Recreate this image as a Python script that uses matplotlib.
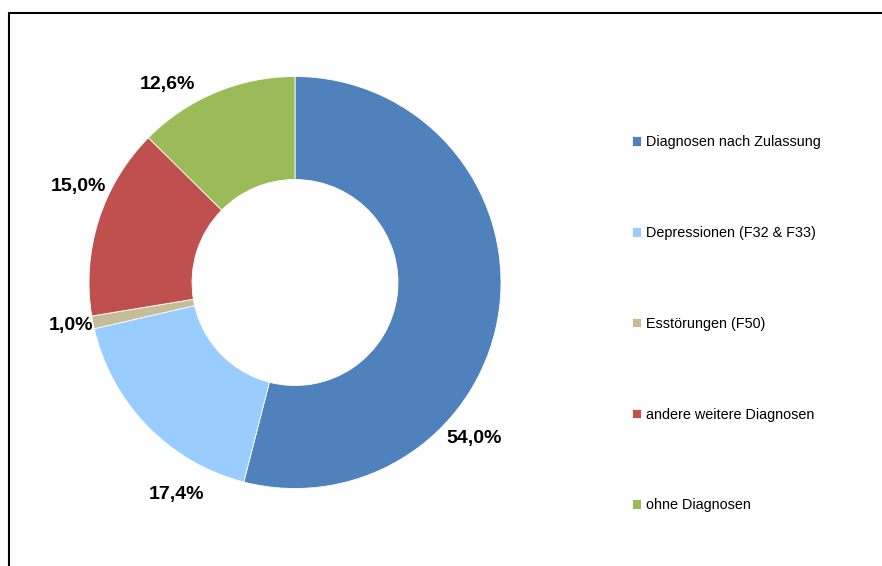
import matplotlib.pyplot as plt
from matplotlib.patches import Rectangle

plt.rcParams['font.family'] = ['Liberation Sans', 'DejaVu Sans']

categories = ['Diagnosen nach Zulassung', 'Depressionen (F32 & F33)', 'Esstörungen (F50)',
              'andere weitere Diagnosen', 'ohne Diagnosen']
values = [54.0, 17.4, 1.0, 15.0, 12.6]
colors = ['#4F81BD', '#99CCFF', '#C4BD97', '#C0504D', '#9BBB59']

# label positions (in units of outer radius), picked to match the original layout
label_pos = [(0.869, -0.755), (-0.573, -1.027), (-1.087, -0.211), (-1.049, 0.464), (-0.617, 0.959)]

W, H = 882, 566
fig = plt.figure(figsize=(W / 100, H / 100), dpi=100)

# frame around chart area
fig.patches.append(Rectangle((9 / W, -0.1), 2.0, (H - 13) / H + 0.1, transform=fig.transFigure,
                             fill=False, edgecolor='black', linewidth=1.5))

R = 206
lim = 1.3
side = 2 * lim * R
cx, cy = 295, H - 282.5
ax = fig.add_axes([(cx - side / 2) / W, (cy - side / 2) / H, side / W, side / H])

wedges, _ = ax.pie(values, colors=colors, startangle=90, counterclock=False, radius=1,
                   wedgeprops=dict(width=0.5, edgecolor='white', linewidth=0.6))
ax.set_xlim(-lim, lim)
ax.set_ylim(-lim, lim)
ax.set_aspect('equal')

for v, (x, y) in zip(values, label_pos):
    ax.text(x, y, f'{v:.1f}%'.replace('.', ','), ha='center', va='center',
            fontsize=14, fontweight='bold', color='black')

leg = fig.legend(wedges, categories, loc='upper left', bbox_to_anchor=(632 / W, 1 - 135 / H),
                 frameon=False, fontsize=10.4, handlelength=0.65, handleheight=0.65,
                 handletextpad=0.3, labelspacing=5.32, borderpad=0, borderaxespad=0)

fig.savefig('out.png', dpi=100)
